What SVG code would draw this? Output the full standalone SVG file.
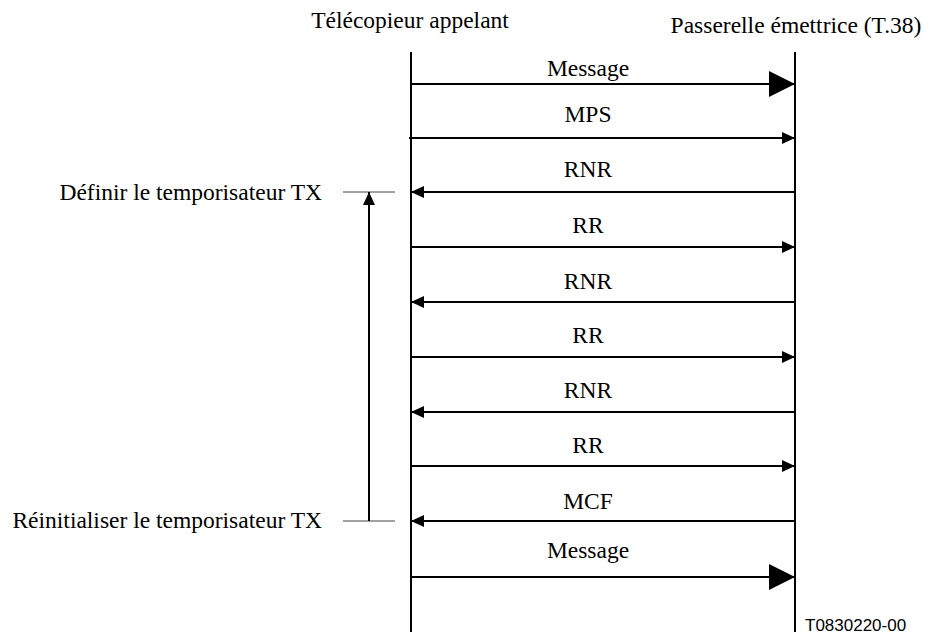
<svg xmlns="http://www.w3.org/2000/svg" width="929" height="636" viewBox="0 0 929 636">
<defs>
<style>
.t{font-family:"Liberation Serif","Times New Roman",serif;font-size:23.5px;fill:#000}
.s{font-family:"Liberation Sans",Arial,sans-serif;font-size:17px;fill:#000}
.life{stroke:#000;stroke-width:2;fill:none}
.msg{stroke:#000;stroke-width:2;fill:none}
.tick{stroke:#444;stroke-width:1;fill:none}
</style>
<marker id="sm" viewBox="0 0 13 12" refX="13" refY="6" markerWidth="13" markerHeight="12" markerUnits="userSpaceOnUse" orient="auto"><path d="M0,0 L13,6 L0,12 Z" fill="#000"/></marker>
<marker id="big" viewBox="0 0 26 26" refX="26" refY="13" markerWidth="26" markerHeight="26" markerUnits="userSpaceOnUse" orient="auto"><path d="M0,0 L26,13 L0,26 Z" fill="#000"/></marker>
</defs>
<rect width="929" height="636" fill="#fff"/>
<g id="fax">
<text class="t" x="410" y="28" text-anchor="middle">Télécopieur appelant</text>
<line class="life" x1="411" y1="52" x2="411" y2="632"/>
</g>
<g id="gateway">
<text class="t" x="796" y="33" text-anchor="middle">Passerelle émettrice (T.38)</text>
<line class="life" x1="795" y1="52" x2="795" y2="632"/>
</g>
<g id="timer">
<text class="t" x="322" y="200" text-anchor="end">Définir le temporisateur TX</text>
<text class="t" x="322" y="528" text-anchor="end">Réinitialiser le temporisateur TX</text>
<line class="tick" x1="343" y1="192" x2="395" y2="192"/>
<line class="tick" x1="343" y1="521" x2="395" y2="521"/>
<line class="msg" x1="369" y1="521" x2="369" y2="192" marker-end="url(#sm)"/>
</g>
<g id="connectors">
<line class="msg" x1="411" y1="84" x2="795" y2="84" marker-end="url(#big)"/>
<text class="t" x="588" y="76" text-anchor="middle">Message</text>
<line class="msg" x1="409" y1="138" x2="795" y2="138" marker-end="url(#sm)"/>
<text class="t" x="588" y="122" text-anchor="middle">MPS</text>
<line class="msg" x1="795" y1="192" x2="411" y2="192" marker-end="url(#sm)"/>
<text class="t" x="588" y="177" text-anchor="middle">RNR</text>
<line class="msg" x1="411" y1="247" x2="795" y2="247" marker-end="url(#sm)"/>
<text class="t" x="588" y="233" text-anchor="middle">RR</text>
<line class="msg" x1="795" y1="302" x2="411" y2="302" marker-end="url(#sm)"/>
<text class="t" x="588" y="289" text-anchor="middle">RNR</text>
<line class="msg" x1="411" y1="357" x2="795" y2="357" marker-end="url(#sm)"/>
<text class="t" x="588" y="343" text-anchor="middle">RR</text>
<line class="msg" x1="795" y1="412" x2="411" y2="412" marker-end="url(#sm)"/>
<text class="t" x="588" y="398" text-anchor="middle">RNR</text>
<line class="msg" x1="411" y1="466" x2="795" y2="466" marker-end="url(#sm)"/>
<text class="t" x="588" y="453" text-anchor="middle">RR</text>
<line class="msg" x1="795" y1="521" x2="411" y2="521" marker-end="url(#sm)"/>
<text class="t" x="588" y="509" text-anchor="middle">MCF</text>
<line class="msg" x1="411" y1="577" x2="795" y2="577" marker-end="url(#big)"/>
<text class="t" x="588" y="558" text-anchor="middle">Message</text>
</g>
<text class="s" x="805" y="631">T0830220-00</text>
</svg>
